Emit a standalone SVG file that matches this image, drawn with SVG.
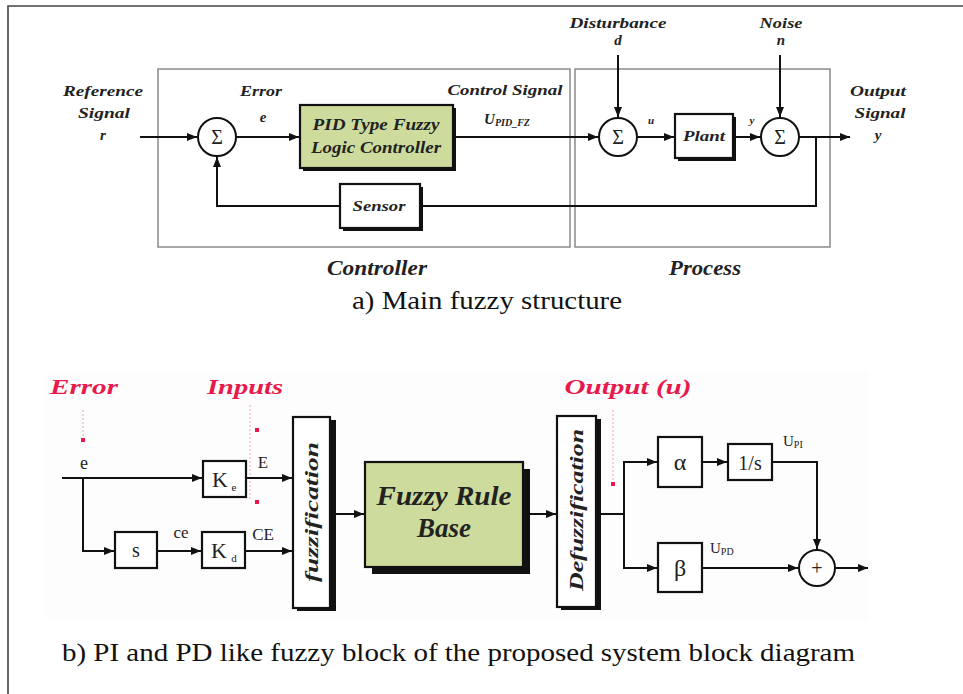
<svg xmlns="http://www.w3.org/2000/svg" width="963" height="694" viewBox="0 0 963 694">
<defs>
<marker id="arr" viewBox="0 0 10 8" refX="10" refY="4" markerWidth="10" markerHeight="8" markerUnits="userSpaceOnUse" orient="auto">
<path d="M0,0 L10,4 L0,8 z" fill="#111"/>
</marker>
<style>
text{font-family:'Liberation Serif','Times New Roman',Times,'Nimbus Roman','Nimbus Roman No9 L',serif}
.bi{font-weight:bold;font-style:italic;fill:#222}
.rm{fill:#222}
.red{font-weight:bold;font-style:italic;fill:#e8194c}
.cap{fill:#111}
.ln{fill:none;stroke:#111;stroke-width:2}
.box{fill:#fff;stroke:#111;stroke-width:2.2}
.grn{fill:#cddc9c;stroke:#111;stroke-width:2.2}
.shd{fill:#111}
.grp{fill:none;stroke:#8a8a8a;stroke-width:1.5}
.sum{fill:#fff;stroke:#111;stroke-width:2}
.dot{fill:#e8194c}
.rdl{stroke:#f2a0b4;stroke-width:1;stroke-dasharray:2 2;fill:none}
</style>
</defs>
<rect width="963" height="694" fill="#fff"/>
<path d="M8,694 V6 H963" fill="none" stroke="#444" stroke-width="1.6"/>

<!-- Top panel (a) -->
<g id="controller-group">
<rect class="grp" x="158" y="69" width="412" height="178"/>
<text class="bi" x="377" y="275" text-anchor="middle" font-size="22" textLength="100" lengthAdjust="spacingAndGlyphs">Controller</text>
</g>
<g id="process-group">
<rect class="grp" x="575" y="69" width="255" height="178"/>
<text class="bi" x="705" y="275" text-anchor="middle" font-size="22" textLength="72" lengthAdjust="spacingAndGlyphs">Process</text>
</g>

<g id="reference">
<text class="bi" x="103" y="96" text-anchor="middle" font-size="15" textLength="80" lengthAdjust="spacingAndGlyphs">Reference</text>
<text class="bi" x="104" y="118" text-anchor="middle" font-size="15" textLength="52" lengthAdjust="spacingAndGlyphs">Signal</text>
<text class="bi" x="103" y="140" text-anchor="middle" font-size="15">r</text>
</g>
<g id="sum1">
<circle class="sum" cx="217" cy="137" r="19"/>
<text class="rm" x="217" y="144" text-anchor="middle" font-size="20">Σ</text>
</g>
<g id="error-label">
<text class="bi" x="261" y="96" text-anchor="middle" font-size="15" textLength="42" lengthAdjust="spacingAndGlyphs">Error</text>
<text class="bi" x="263" y="122" text-anchor="middle" font-size="15">e</text>
</g>
<g id="pid">
<rect class="shd" x="303" y="108" width="153" height="63"/>
<rect class="grn" x="300" y="105" width="153" height="63"/>
<text class="bi" x="376" y="130" text-anchor="middle" font-size="16" textLength="127" lengthAdjust="spacingAndGlyphs">PID Type Fuzzy</text>
<text class="bi" x="376" y="153" text-anchor="middle" font-size="16" textLength="130" lengthAdjust="spacingAndGlyphs">Logic Controller</text>
</g>
<g id="control-signal">
<text class="bi" x="505" y="95" text-anchor="middle" font-size="15" textLength="115" lengthAdjust="spacingAndGlyphs">Control Signal</text>
<text class="bi" x="507" y="124" text-anchor="middle" font-size="15">U<tspan font-size="10" dy="2">PID_FZ</tspan></text>
</g>
<g id="disturbance">
<text class="bi" x="618" y="28" text-anchor="middle" font-size="14" textLength="97" lengthAdjust="spacingAndGlyphs">Disturbance</text>
<text class="bi" x="618" y="45" text-anchor="middle" font-size="15">d</text>
</g>
<g id="sum2">
<circle class="sum" cx="618" cy="137" r="19"/>
<text class="rm" x="618" y="144" text-anchor="middle" font-size="20">Σ</text>
</g>
<g id="u-label"><text class="bi" x="651" y="124" text-anchor="middle" font-size="11">u</text></g>
<g id="plant">
<rect class="shd" x="678" y="117" width="58" height="44"/>
<rect class="box" x="675" y="114" width="58" height="44"/>
<text class="bi" x="704" y="141" text-anchor="middle" font-size="15" textLength="42" lengthAdjust="spacingAndGlyphs">Plant</text>
</g>
<g id="y-label"><text class="bi" x="752" y="124" text-anchor="middle" font-size="11">y</text></g>
<g id="noise">
<text class="bi" x="781" y="28" text-anchor="middle" font-size="14" textLength="43" lengthAdjust="spacingAndGlyphs">Noise</text>
<text class="bi" x="781" y="45" text-anchor="middle" font-size="15">n</text>
</g>
<g id="sum3">
<circle class="sum" cx="780" cy="137" r="19"/>
<text class="rm" x="780" y="144" text-anchor="middle" font-size="20">Σ</text>
</g>
<g id="output">
<text class="bi" x="878" y="96" text-anchor="middle" font-size="15" textLength="56" lengthAdjust="spacingAndGlyphs">Output</text>
<text class="bi" x="880" y="118" text-anchor="middle" font-size="15" textLength="51" lengthAdjust="spacingAndGlyphs">Signal</text>
<text class="bi" x="878" y="140" text-anchor="middle" font-size="15">y</text>
</g>
<g id="sensor">
<rect class="shd" x="343" y="187" width="80" height="44"/>
<rect class="box" x="340" y="184" width="80" height="44"/>
<text class="bi" x="379" y="211" text-anchor="middle" font-size="15" textLength="53" lengthAdjust="spacingAndGlyphs">Sensor</text>
</g>

<g id="connectors-a">
<path class="ln" d="M140,137 H197" marker-end="url(#arr)"/>
<path class="ln" d="M236,137 H299" marker-end="url(#arr)"/>
<path class="ln" d="M456,137 H598" marker-end="url(#arr)"/>
<path class="ln" d="M618,55 V117" marker-end="url(#arr)"/>
<path class="ln" d="M637,137 H674" marker-end="url(#arr)"/>
<path class="ln" d="M736,137 H760" marker-end="url(#arr)"/>
<path class="ln" d="M780,55 V117" marker-end="url(#arr)"/>
<path class="ln" d="M799,137 H850" marker-end="url(#arr)"/>
<path class="ln" d="M816,137 V206 H423"/>
<path class="ln" d="M340,206 H217 V157" marker-end="url(#arr)"/>
</g>

<text class="cap" x="487" y="309" text-anchor="middle" font-size="26" textLength="270" lengthAdjust="spacingAndGlyphs">a) Main fuzzy structure</text>

<!-- Bottom panel (b) -->
<rect x="45" y="372" width="823" height="248" fill="#fdfdfd"/>
<g id="red-labels">
<text class="red" x="84" y="394" text-anchor="middle" font-size="22" textLength="68" lengthAdjust="spacingAndGlyphs">Error</text>
<text class="red" x="245" y="394" text-anchor="middle" font-size="22" textLength="76" lengthAdjust="spacingAndGlyphs">Inputs</text>
<text class="red" x="628" y="394" text-anchor="middle" font-size="22" textLength="127" lengthAdjust="spacingAndGlyphs">Output (u)</text>
<path class="rdl" d="M83,410 V436"/>
<path class="rdl" d="M250,405 V500"/>
<path class="rdl" d="M613,410 V480"/>
<rect class="dot" x="81" y="438" width="4" height="4"/>
<rect class="dot" x="255" y="428" width="4" height="4"/>
<rect class="dot" x="255" y="500" width="4" height="4"/>
<rect class="dot" x="611" y="482" width="4" height="4"/>
</g>
<g id="e-label"><text class="rm" x="84" y="469" text-anchor="middle" font-size="18">e</text></g>
<g id="Ke">
<rect class="box" x="203" y="461" width="43" height="36"/>
<text class="rm" x="220" y="487" text-anchor="middle" font-size="22">K</text>
<text class="rm" x="234" y="491" text-anchor="middle" font-size="11">e</text>
</g>
<g id="s-block">
<rect class="box" x="115" y="532" width="42" height="36"/>
<text class="rm" x="136" y="557" text-anchor="middle" font-size="20">s</text>
</g>
<g id="ce-label"><text class="rm" x="181" y="538" text-anchor="middle" font-size="17">ce</text></g>
<g id="Kd">
<rect class="box" x="202" y="532" width="43" height="36"/>
<text class="rm" x="219" y="558" text-anchor="middle" font-size="22">K</text>
<text class="rm" x="234" y="562" text-anchor="middle" font-size="11">d</text>
</g>
<g id="E-label"><text class="rm" x="263" y="468" text-anchor="middle" font-size="17">E</text></g>
<g id="CE-label"><text class="rm" x="263" y="540" text-anchor="middle" font-size="17">CE</text></g>
<g id="fuzzification">
<rect class="shd" x="297" y="420" width="39" height="191"/>
<rect class="box" x="293" y="417" width="37" height="191"/>
<text class="bi" transform="translate(318,512) rotate(-90)" text-anchor="middle" font-size="19" textLength="140" lengthAdjust="spacingAndGlyphs">fuzzification</text>
</g>
<g id="rule-base">
<rect class="shd" x="372" y="469" width="158" height="105"/>
<rect class="grn" x="365" y="462" width="158" height="105"/>
<text class="bi" x="444" y="505" text-anchor="middle" font-size="27" textLength="135" lengthAdjust="spacingAndGlyphs">Fuzzy Rule</text>
<text class="bi" x="444" y="537" text-anchor="middle" font-size="27">Base</text>
</g>
<g id="defuzzification">
<rect class="shd" x="561" y="419" width="40" height="191"/>
<rect class="box" x="557" y="416" width="39" height="191"/>
<text class="bi" transform="translate(583,510) rotate(-90)" text-anchor="middle" font-size="19" textLength="162" lengthAdjust="spacingAndGlyphs">Defuzzification</text>
</g>
<g id="alpha">
<rect class="box" x="658" y="437" width="44" height="50"/>
<text class="rm" x="680" y="470" text-anchor="middle" font-size="24">α</text>
</g>
<g id="integrator">
<rect class="box" x="728" y="444" width="44" height="36"/>
<text class="rm" x="750" y="470" text-anchor="middle" font-size="20">1/s</text>
</g>
<g id="upi-label"><text class="rm" x="783" y="446" font-size="15">U<tspan font-size="10" dy="2">PI</tspan></text></g>
<g id="beta">
<rect class="box" x="658" y="543" width="44" height="49"/>
<text class="rm" x="680" y="576" text-anchor="middle" font-size="24">β</text>
</g>
<g id="upd-label"><text class="rm" x="710" y="553" font-size="15">U<tspan font-size="10" dy="2">PD</tspan></text></g>
<g id="sum-out">
<circle class="sum" cx="817" cy="568" r="18"/>
<text class="rm" x="817" y="575" text-anchor="middle" font-size="20">+</text>
</g>

<g id="connectors-b">
<path class="ln" d="M62,478 H202" marker-end="url(#arr)"/>
<path class="ln" d="M83,478 V551 H114" marker-end="url(#arr)"/>
<path class="ln" d="M157,551 H201" marker-end="url(#arr)"/>
<path class="ln" d="M246,478 H292" marker-end="url(#arr)"/>
<path class="ln" d="M245,551 H292" marker-end="url(#arr)"/>
<path class="ln" d="M336,514 H364" marker-end="url(#arr)"/>
<path class="ln" d="M530,514 H556" marker-end="url(#arr)"/>
<path class="ln" d="M601,514 H624"/>
<path class="ln" d="M624,462 V568"/>
<path class="ln" d="M623,462 H657" marker-end="url(#arr)"/>
<path class="ln" d="M623,568 H657" marker-end="url(#arr)"/>
<path class="ln" d="M702,462 H727" marker-end="url(#arr)"/>
<path class="ln" d="M772,462 H817 V549" marker-end="url(#arr)"/>
<path class="ln" d="M702,568 H798" marker-end="url(#arr)"/>
<path class="ln" d="M835,568 H868" marker-end="url(#arr)"/>
</g>

<text class="cap" x="62" y="661" font-size="26" textLength="793" lengthAdjust="spacingAndGlyphs">b) PI and PD like fuzzy block of the proposed system block diagram</text>
</svg>
